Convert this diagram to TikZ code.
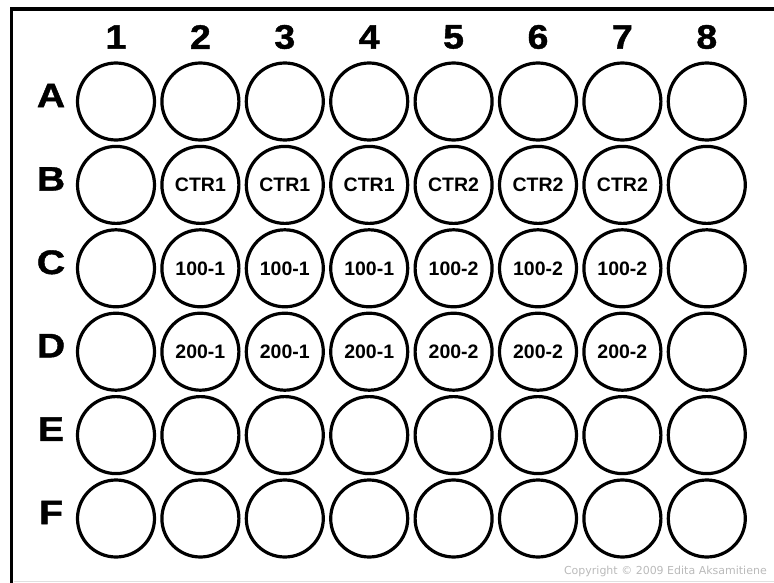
\documentclass[tikz,border=0pt]{standalone}
\usepackage{fontspec}
\setmainfont{Liberation Sans}
\newfontfamily\heavyfont[FakeBold=1.2]{Liberation Sans}
\newfontfamily\copyfont{DejaVu Sans}

\begin{document}
\begin{tikzpicture}[x=1pt, y=-1pt,
  well/.style={circle, draw, line width=3.2pt, minimum size=77pt, inner sep=0pt},
  welltext/.style={font=\bfseries\fontsize{19.5}{20}\selectfont, inner sep=0pt},
  axislabel/.style={font=\heavyfont\bfseries\fontsize{34}{36}\selectfont, inner sep=0pt}]
  \useasboundingbox (0,0) rectangle (774,583);

  % Frame
  \draw[line width=3.5pt] (774,9) -- (11.7,9) -- (11.7,583);
  \draw[black!12, line width=1pt] (13.5,581) -- (774,581);

  % Column numbers
  \foreach \c in {1,...,8}
    \node[axislabel] (col\c) at ({116+84.4*(\c-1)}, 37) {\scalebox{1.1}[1]{\c}};

  % Row letters
  \foreach \r [count=\i from 0] in {A,...,F}
    \node[axislabel] (row\r) at (51, {95.5+83.4*\i}) {\scalebox{1.15}[1]{\r}};

  % Wells
  \foreach \r [count=\i from 0] in {A,...,F}
    \foreach \c in {1,...,8}
      \node[well] (\r\c) at ({116+84.4*(\c-1)}, {101.5+83.4*\i}) {};

  % Samples
  \foreach \r/\s in {B/CTR, C/100-, D/200-} {
    \foreach \c in {2,3,4}
      \node[welltext] (lbl\r\c) at (\r\c) {\s1};
    \foreach \c in {5,6,7}
      \node[welltext] (lbl\r\c) at (\r\c) {\s2};
  }

  % Copyright
  \node[font=\copyfont\fontsize{11}{13}\selectfont, text=black!27, anchor=base east, inner sep=0pt]
    (copyright) at (767,574) {Copyright \textcopyright{} 2009 Edita Aksamitiene};
\end{tikzpicture}
\end{document}
